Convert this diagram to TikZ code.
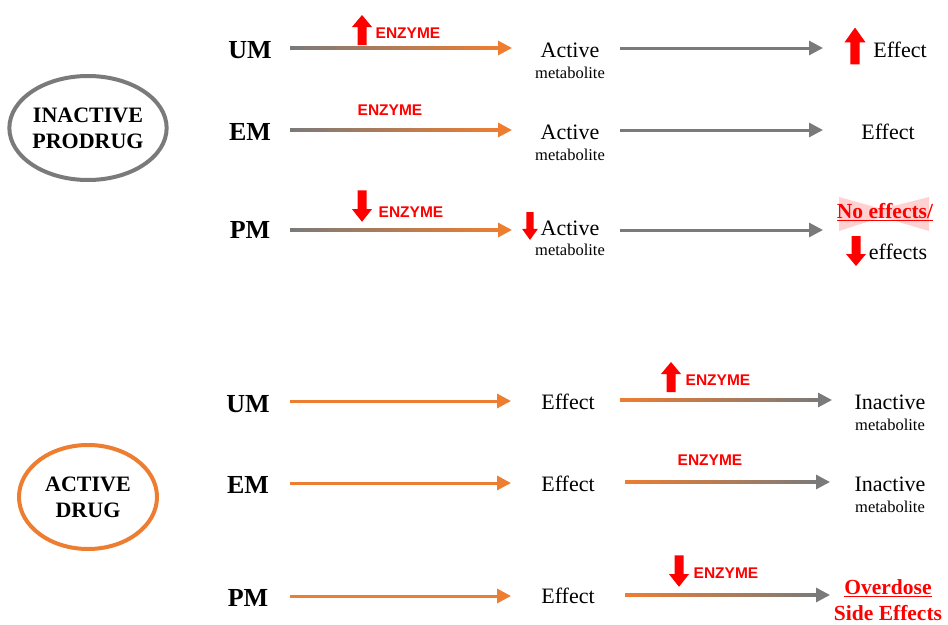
\documentclass[tikz,border=0pt]{standalone}
\usepackage{fontspec}
\setmainfont{Liberation Serif}
\newfontfamily\enzfont{Liberation Sans}
\usetikzlibrary{arrows.meta,calc,shapes.geometric}
\definecolor{myorange}{HTML}{ED7D31}
\definecolor{mygray}{HTML}{7A7A7A}
\definecolor{myred}{HTML}{FF0000}
\newcommand\gradarr[4]{%
  \draw[arr,#4] (#1) -- (#2);
  \shade[left color=#3,right color=#4] ($(#1)+(0,-1.5)$) rectangle ($(#2)+(-13,1.5)$);}
\begin{document}
\begin{tikzpicture}[x=1pt,y=-1pt,
  lbl/.style={font=\fontsize{26}{28}\selectfont\bfseries, inner sep=0},
  big/.style={font=\fontsize{22}{24}\selectfont, inner sep=0},
  small/.style={font=\fontsize{16.5}{18}\selectfont, inner sep=0},
  enz/.style={font=\enzfont\fontsize{15.5}{17}\selectfont\bfseries, text=myred, inner sep=0},
  redtxt/.style={font=\fontsize{21.5}{24}\selectfont\bfseries, text=myred, inner sep=0},
  arr/.style={line width=3pt, -{Triangle[length=14pt,width=14pt]}},
  drug/.style={ellipse, line width=4pt, align=center, inner sep=0,
    font=\fontsize{22}{26}\selectfont\bfseries},
  uparr/.pic={\fill[myred] (-4.5,15) -- (4.5,15) -- (4.5,-3) -- (10,-3) -- (0,-15) -- (-10,-3) -- (-4.5,-3) -- cycle;}
]
\useasboundingbox (0,0) rectangle (948,624);
\fill[white] (0,0) rectangle (948,624);

% ---------- Inactive prodrug ----------
\node[drug, draw=mygray, minimum width=154, minimum height=104] (pro) at (88,128) {INACTIVE\\PRODRUG};

\node[lbl] (um1) at (250,50) {UM};
\node[lbl] (em1) at (250,132) {EM};
\node[lbl] (pm1) at (250,230) {PM};

\node[big] (act1) at (570,50) {Active};
\node[small] (met1) at (570,73) {metabolite};
\node[big] (act2) at (570,132) {Active};
\node[small] (met2) at (570,155) {metabolite};
\node[big] (act3) at (570,228) {Active};
\node[small] (met3) at (570,250) {metabolite};

\coordinate (a1s) at (290,48);  \coordinate (a1e) at (512,48);
\coordinate (a2s) at (290,130); \coordinate (a2e) at (512,130);
\coordinate (a3s) at (290,230); \coordinate (a3e) at (512,230);
\gradarr{a1s}{a1e}{mygray}{myorange}
\gradarr{a2s}{a2e}{mygray}{myorange}
\gradarr{a3s}{a3e}{mygray}{myorange}

\coordinate (b1s) at (620,48);  \coordinate (b1e) at (823,48);
\coordinate (b2s) at (620,130); \coordinate (b2e) at (823,130);
\coordinate (b3s) at (620,230); \coordinate (b3e) at (823,230);
\draw[arr,mygray] (b1s) -- (b1e);
\draw[arr,mygray] (b2s) -- (b2e);
\draw[arr,mygray] (b3s) -- (b3e);

\pic at (362,30) {uparr};
\node[enz] (e1) at (408,33) {ENZYME};
\node[enz] (e2) at (390,110) {ENZYME};
\pic[yscale=-1.05] at (362,206) {uparr};
\node[enz] (e3) at (411,212) {ENZYME};
\pic[xscale=0.8,yscale=-0.93] at (530,226) {uparr};

\pic[xscale=1.05,yscale=1.23] at (855,46) {uparr};
\node[big] (ef1) at (900,50) {Effect};
\node[big] (ef2) at (888,132) {Effect};
\fill[myred!18] (839,197) -- (882,209) -- (929,197) -- (929,231) -- (882,217) -- (839,231) -- cycle;
\node[redtxt] (noef) at (885,212) {\underline{No effects/}};
\pic[yscale=-1] at (856,251) {uparr};
\node[big] (ef3) at (898,252) {effects};

% ---------- Active drug ----------
\node[drug, draw=myorange, minimum width=138, minimum height=104] (act) at (88,497) {ACTIVE\\DRUG};

\node[lbl] (um2) at (248,404) {UM};
\node[lbl] (em2) at (248,485) {EM};
\node[lbl] (pm2) at (248,598) {PM};

\node[big] (f1) at (568,402) {Effect};
\node[big] (f2) at (568,484) {Effect};
\node[big] (f3) at (568,596) {Effect};

\coordinate (c1s) at (290,401); \coordinate (c1e) at (511,401);
\coordinate (c2s) at (290,483); \coordinate (c2e) at (511,483);
\coordinate (c3s) at (290,596); \coordinate (c3e) at (511,596);
\draw[arr,myorange] (c1s) -- (c1e);
\draw[arr,myorange] (c2s) -- (c2e);
\draw[arr,myorange] (c3s) -- (c3e);

\coordinate (d1s) at (620,400); \coordinate (d1e) at (832,400);
\coordinate (d2s) at (625,482); \coordinate (d2e) at (830,482);
\coordinate (d3s) at (625,595); \coordinate (d3e) at (830,595);
\gradarr{d1s}{d1e}{myorange}{mygray}
\gradarr{d2s}{d2e}{myorange}{mygray}
\gradarr{d3s}{d3e}{myorange}{mygray}

\pic at (671,377) {uparr};
\node[enz] (e4) at (718,380) {ENZYME};
\node[enz] (e5) at (710,460) {ENZYME};
\pic[yscale=-1.05] at (679,571) {uparr};
\node[enz] (e6) at (726,573) {ENZYME};

\node[big] (in1) at (890,402) {Inactive};
\node[small] (im1) at (890,425) {metabolite};
\node[big] (in2) at (890,484) {Inactive};
\node[small] (im2) at (890,507) {metabolite};
\node[redtxt] (od) at (888,588) {\underline{Overdose}};
\node[redtxt] (se) at (888,613) {Side Effects};
\end{tikzpicture}
\end{document}
